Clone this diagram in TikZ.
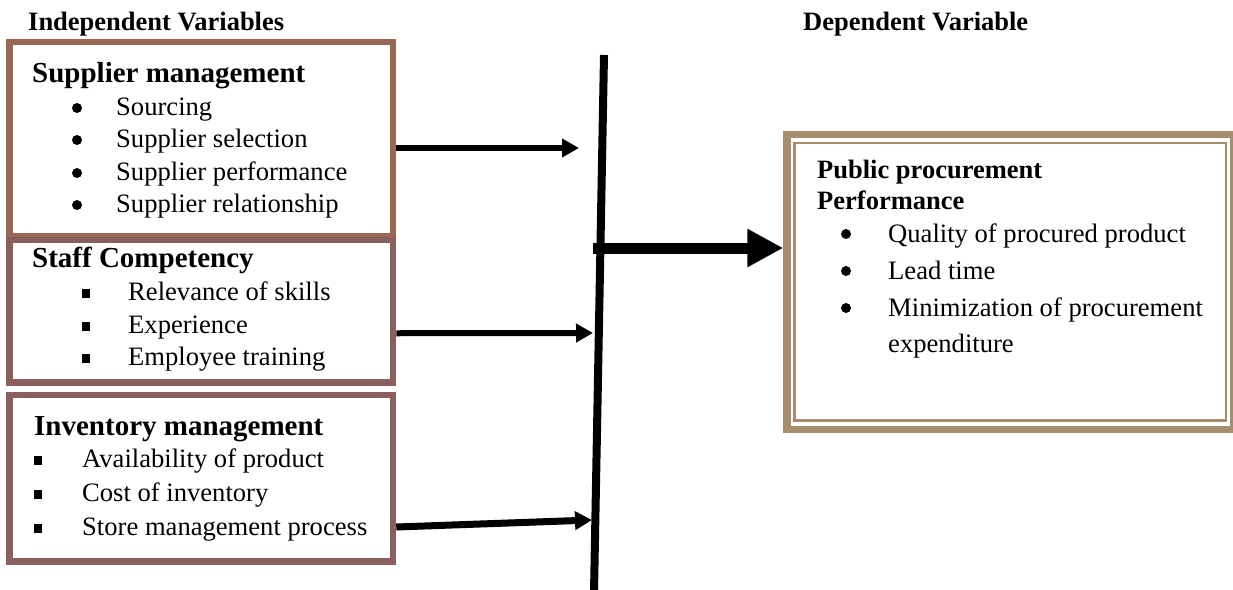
\documentclass[tikz,border=0pt]{standalone}
\usepackage{fontspec}
\setmainfont{Liberation Serif}
\usetikzlibrary{arrows.meta}
\definecolor{brownA}{HTML}{9B6755}
\definecolor{brownB}{HTML}{8B5F5E}
\definecolor{tanC}{HTML}{A68E6C}
\begin{document}
\begin{tikzpicture}[x=1pt,y=-1pt]
\tikzstyle{ivbox}=[draw, line width=6.5pt, inner sep=0pt, minimum width=383.5pt]
\tikzstyle{head}=[anchor=base west, inner sep=0pt, font=\fontsize{26.5}{30}\selectfont\bfseries]
\tikzstyle{title}=[anchor=base west, inner sep=0pt, font=\fontsize{29}{32}\selectfont\bfseries]
\tikzstyle{item}=[anchor=base west, inner sep=0pt, font=\fontsize{26.6}{32}\selectfont]
\tikzstyle{dot}=[circle, fill, inner sep=0pt, minimum size=10pt]
\tikzstyle{sq}=[rectangle, fill, inner sep=0pt, minimum size=8.5pt]
\tikzstyle{arr}=[line width=6pt, -{Triangle[length=17pt,width=18pt]}]
\useasboundingbox (0,0) rectangle (1233,589);

\node[head] (iv) at (28,30) {Independent Variables};
\node[head] (dv) at (803,30) {Dependent Variable};

\node[ivbox, draw=brownA, minimum height=194.5pt] (sm) at (201.25,139.25) {};
\node[ivbox, draw=brownB, minimum height=142.5pt] (sc) at (201.25,311.25) {};
\node[ivbox, draw=brownB, minimum height=166.5pt] (im) at (201.25,478.25) {};

\node[title] (smt) at (32,82) {Supplier management};
\node[dot] (sb1) at (77,108) {};
\node[item] (sm1) at (116,115) {Sourcing};
\node[dot] (sb2) at (77,140) {};
\node[item] (sm2) at (116,147) {Supplier selection};
\node[dot] (sb3) at (77,173) {};
\node[item] (sm3) at (116,180) {Supplier performance};
\node[dot] (sb4) at (77,205) {};
\node[item] (sm4) at (116,212) {Supplier relationship};

\node[title] (sct) at (32,267) {Staff Competency};
\node[sq] (cb1) at (86,293.5) {};
\node[item] (sc1) at (128,300) {Relevance of skills};
\node[sq] (cb2) at (86,326.5) {};
\node[item] (sc2) at (128,333) {Experience};
\node[sq] (cb3) at (86,358.5) {};
\node[item] (sc3) at (128,365) {Employee training};

\node[title] (imt) at (34,435) {Inventory management};
\node[sq] (ib1) at (38,460.5) {};
\node[item] (im1) at (82,467) {Availability of product};
\node[sq] (ib2) at (38,494.5) {};
\node[item] (im2) at (82,501) {Cost of inventory};
\node[sq] (ib3) at (38,528.5) {};
\node[item] (im3) at (82,535) {Store management process};

\node[draw=tanC, line width=7.5pt, inner sep=0pt, minimum width=446.5pt, minimum height=295pt] (pp) at (1010.25,282) {};
\draw[tanC, line width=2.5pt] ([shift={(11.25,12.25)}]pp.north west) rectangle ([shift={(-11.25,-12.75)}]pp.south east);

\node[head] (ppt) at (817,178) {Public procurement};
\node[head] (ppp) at (817,209) {Performance};
\node[dot] (pb1) at (846,234) {};
\node[item] (pp1) at (888,242) {Quality of procured product};
\node[dot] (pb2) at (846,271) {};
\node[item] (pp2) at (888,279) {Lead time};
\node[dot] (pb3) at (846,308) {};
\node[item] (pp3) at (888,316) {Minimization of procurement};
\node[item] (pp4) at (888,352) {expenditure};

\coordinate (top) at (604,55);
\coordinate (bot) at (594,592);
\draw[line width=8pt] (top) -- (bot);

\coordinate (t1) at (579,148);
\coordinate (t2) at (593,333);
\coordinate (t3) at (592,520);
\coordinate (j) at (593,248);
\draw[arr] ([shift={(0,8.75)}]sm.east) -- (t1);
\draw[arr] ([shift={(0,22)}]sc.east) -- (t2);
\draw[arr, line width=7pt] ([shift={(0,48.75)}]im.east) -- (t3);
\draw[line width=11pt, -{Triangle[length=36pt,width=36pt]}] (j) -- (j -| pp.west);

\end{tikzpicture}
\end{document}
